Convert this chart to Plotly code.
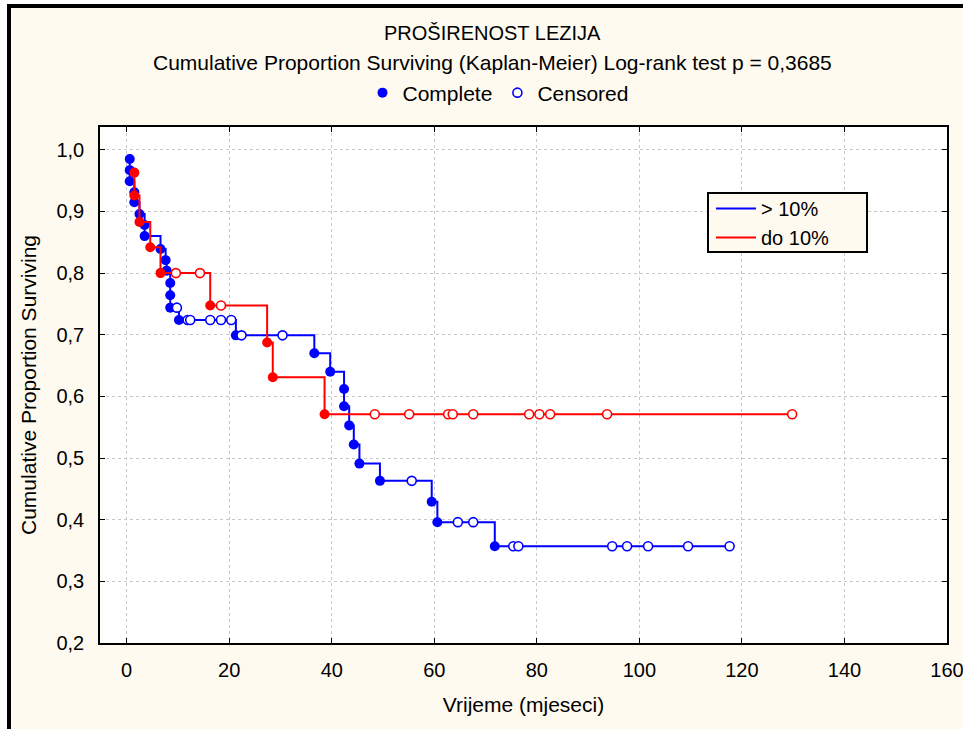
import plotly.graph_objects as go

# group "> 10%" (blue): time (months), cumulative proportion surviving, censored flag
t_b = [0.6, 0.6, 0.6, 1.5, 1.5, 2.5, 3.5, 3.5, 6.6, 7.6, 7.8, 8.5, 8.5, 8.5, 9.8, 10.2,
       11.9, 12.4, 16.3, 18.4, 20.4, 21.3, 22.4, 30.4, 36.6, 39.7, 42.4, 42.4, 43.4, 44.3,
       45.4, 49.4, 55.6, 59.5, 60.6, 64.6, 67.6, 71.8, 75.4, 76.4, 94.7, 97.6, 101.7, 109.5, 117.6]
p_b = [0.985, 0.967, 0.949, 0.931, 0.915, 0.896, 0.878, 0.860, 0.839, 0.821, 0.804, 0.784, 0.764, 0.744, 0.744, 0.724,
       0.724, 0.724, 0.724, 0.724, 0.724, 0.699, 0.699, 0.699, 0.670, 0.640, 0.612, 0.584, 0.553, 0.522,
       0.491, 0.463, 0.463, 0.429, 0.396, 0.396, 0.396, 0.357, 0.357, 0.357, 0.357, 0.357, 0.357, 0.357, 0.357]
c_b = [0, 0, 0, 0, 0, 0, 0, 0, 0, 0, 0, 0, 0, 0, 1, 0,
       1, 1, 1, 1, 1, 0, 1, 1, 0, 0, 0, 0, 0, 0,
       0, 0, 1, 0, 0, 1, 1, 0, 1, 1, 1, 1, 1, 1, 1]

# group "do 10%" (red)
t_r = [1.5, 1.5, 2.5, 4.6, 6.6, 9.6, 14.3, 16.3, 18.4, 27.4, 28.5, 38.6,
       48.4, 55.1, 62.7, 63.6, 67.6, 78.5, 80.5, 82.6, 93.7, 129.8]
p_r = [0.963, 0.926, 0.883, 0.842, 0.800, 0.800, 0.800, 0.7475, 0.7475, 0.6875, 0.631, 0.571,
       0.571, 0.571, 0.571, 0.571, 0.571, 0.571, 0.571, 0.571, 0.571, 0.571]
c_r = [0, 0, 0, 0, 0, 1, 1, 0, 1, 0, 0, 0,
       1, 1, 1, 1, 1, 1, 1, 1, 1, 1]

FONT = "Liberation Sans, Arial, sans-serif"
CREAM = "#fffaf0"

fig = go.Figure()

def add_group(t, p, c, color, name, first):
    # step line
    fig.add_trace(go.Scatter(x=t, y=p, mode="lines", line=dict(color=color, width=2, shape="hv"),
                             name=name, legend="legend"))
    # complete (filled) markers
    tc = [a for a, k in zip(t, c) if k == 0]
    pc = [b for b, k in zip(p, c) if k == 0]
    fig.add_trace(go.Scatter(x=tc, y=pc, mode="markers", name="Complete", legend="legend2",
                             showlegend=first,
                             marker=dict(color=color, size=10, line=dict(width=0))))
    # censored (open) markers
    to = [a for a, k in zip(t, c) if k == 1]
    po = [b for b, k in zip(p, c) if k == 1]
    fig.add_trace(go.Scatter(x=to, y=po, mode="markers", name="Censored", legend="legend2",
                             showlegend=first,
                             marker=dict(color="white", size=9, line=dict(color=color, width=1.6))))

add_group(t_b, p_b, c_b, "#0000ff", "> 10%", True)
add_group(t_r, p_r, c_r, "#ff0000", "do 10%", False)

W, H = 963, 729
L, R, T, B = 100, 947, 127, 643
def px(x):
    return (x - L) / (R - L)
def py(y):
    return (B - y) / (B - T)

axis_common = dict(showline=True, linecolor="black", linewidth=1.5, mirror="ticks",
                   ticks="inside", ticklen=5, tickcolor="black", automargin=False,
                   showgrid=True, gridcolor="#c8c8c8", griddash="dot", gridwidth=1,
                   zeroline=False, tickfont=dict(family=FONT, size=20, color="black"))

fig.update_xaxes(range=[-5.2, 160], tickvals=list(range(0, 161, 20)), ticklabelstandoff=8,
                 ticklabeloverflow="allow",
                 title=dict(text="Vrijeme (mjeseci)", font=dict(family=FONT, size=21, color="black"), standoff=18),
                 **axis_common)
fig.update_yaxes(range=[0.2, 1.037], tickvals=[0.2, 0.3, 0.4, 0.5, 0.6, 0.7, 0.8, 0.9, 1.0],
                 tickformat=".1f", ticklabelstandoff=10,
                 title=dict(text="Cumulative Proportion Surviving", font=dict(family=FONT, size=21, color="black"), standoff=14),
                 **axis_common)

fig.update_layout(
    width=W, height=H,
    margin=dict(l=L, r=W - R, t=T, b=H - B, autoexpand=False),
    paper_bgcolor=CREAM, plot_bgcolor="white",
    separators=",.",
    font=dict(family=FONT, size=20, color="black"),
    legend=dict(x=px(711), y=py(189), xanchor="left", yanchor="top",
                bgcolor="rgba(0,0,0,0)", borderwidth=0,
                font=dict(family=FONT, size=20), itemwidth=40, tracegroupgap=0),
    legend2=dict(orientation="h", x=px(498), xanchor="center", y=py(93), yanchor="middle",
                 bgcolor="rgba(0,0,0,0)", font=dict(family=FONT, size=21), itemwidth=30),
    annotations=[
        dict(text="PROŠIRENOST LEZIJA", xref="paper", yref="paper", x=px(492), y=py(33),
             xanchor="center", yanchor="middle", showarrow=False, font=dict(family=FONT, size=20)),
        dict(text="Cumulative Proportion Surviving (Kaplan-Meier) Log-rank test p = 0,3685",
             xref="paper", yref="paper", x=px(492), y=py(62),
             xanchor="center", yanchor="middle", showarrow=False, font=dict(family=FONT, size=21)),
    ],
    shapes=[
        # legend box
        dict(type="rect", xref="paper", yref="paper", x0=px(708), x1=px(867), y0=py(252), y1=py(193),
             fillcolor=CREAM, line=dict(color="black", width=2)),
        # white margin strips and black frame on the top and left of the picture
        dict(type="rect", xref="paper", yref="paper", x0=px(-5), x1=px(W + 5), y0=py(4), y1=py(-5),
             fillcolor="white", line=dict(width=0)),
        dict(type="rect", xref="paper", yref="paper", x0=px(-5), x1=px(7), y0=py(H + 5), y1=py(-5),
             fillcolor="white", line=dict(width=0)),
        dict(type="rect", xref="paper", yref="paper", x0=px(7), x1=px(W + 5), y0=py(8), y1=py(4),
             fillcolor="black", line=dict(width=0)),
        dict(type="rect", xref="paper", yref="paper", x0=px(7), x1=px(11), y0=py(H + 5), y1=py(4),
             fillcolor="black", line=dict(width=0)),
    ],
)

fig.write_html("out.html", config={"displayModeBar": False},
               post_script="document.body.style.margin='0';")
